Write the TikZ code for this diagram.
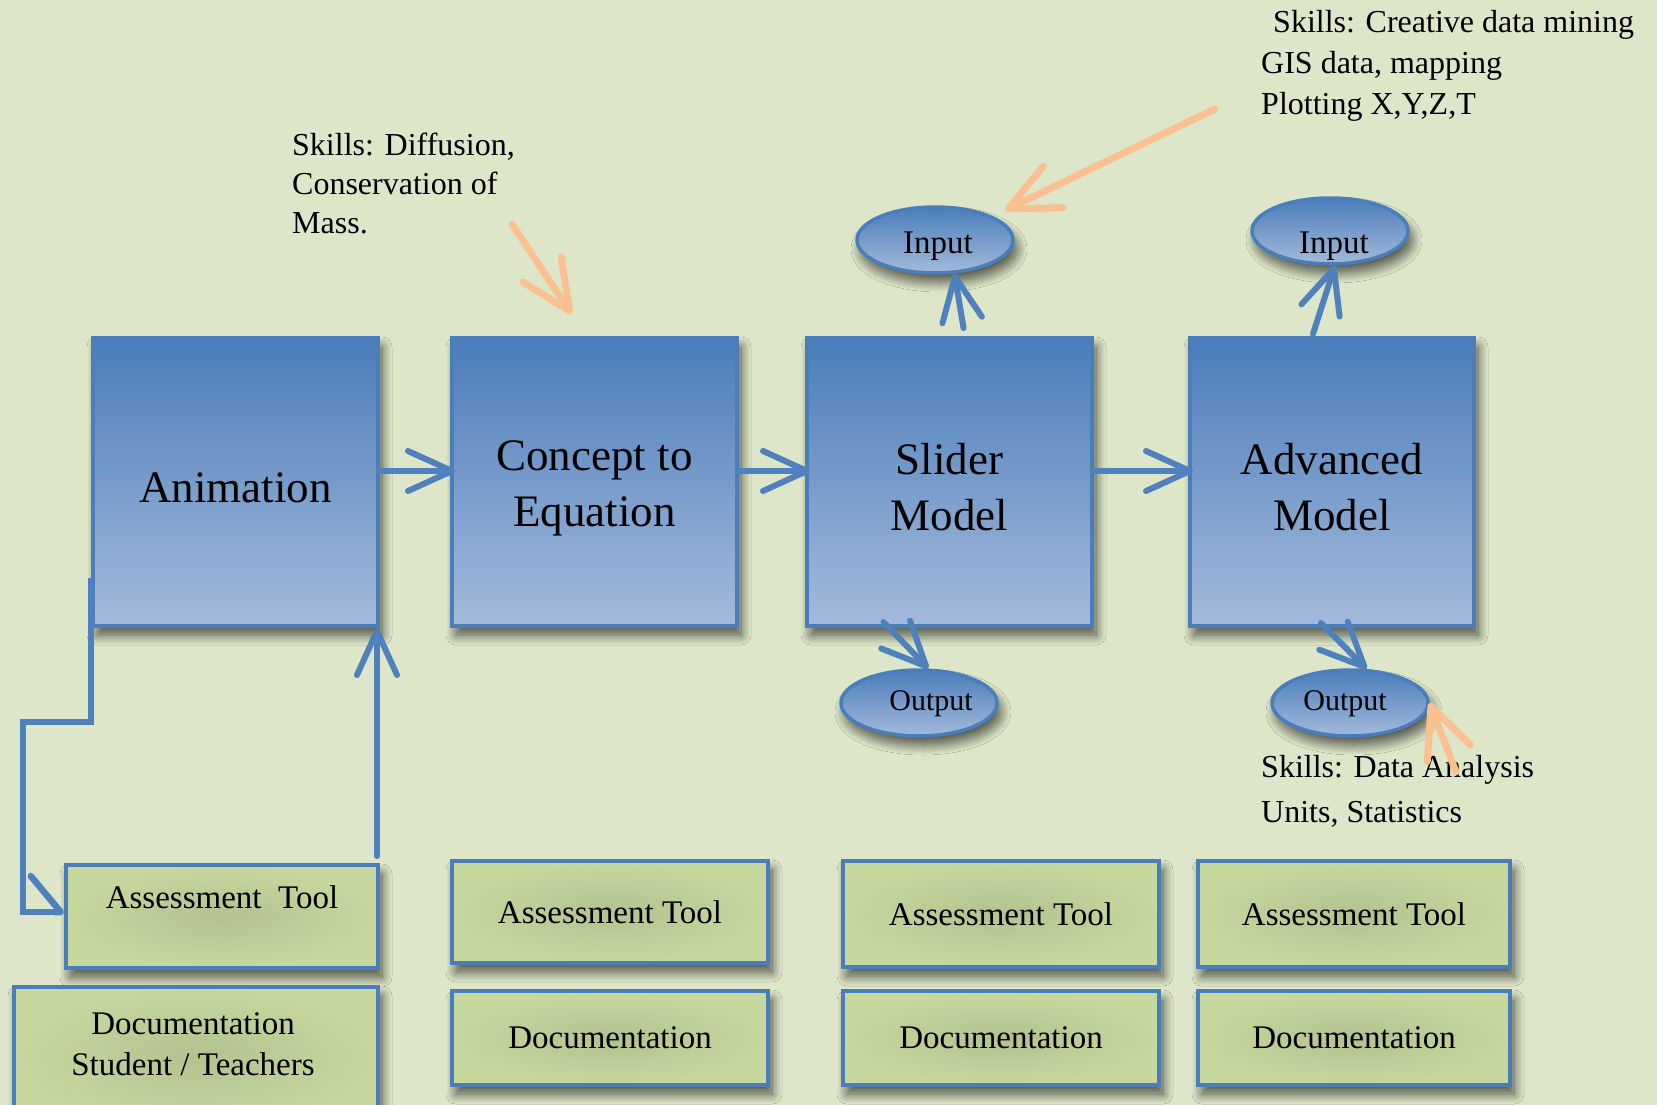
\documentclass[tikz,border=0pt]{standalone}
\usepackage{fontspec}
\setmainfont{Liberation Serif}
\usetikzlibrary{arrows.meta,shapes.geometric,shadows.blur}
\definecolor{bgc}{HTML}{DDE6C8}
\definecolor{btop}{HTML}{4A7DBA}
\definecolor{bbot}{HTML}{A4BADB}
\definecolor{bord}{HTML}{4A7EBB}
\definecolor{arrblue}{HTML}{4F81BD}
\definecolor{gin}{HTML}{B3C28F}
\definecolor{gout}{HTML}{C6D89E}
\definecolor{orng}{HTML}{FAC090}
\definecolor{shadowc}{HTML}{5E6646}
\begin{document}
\begin{tikzpicture}[x=1pt,y=-1pt,
  softshadow/.style={blur shadow={shadow xshift=4pt,shadow yshift=-9pt,shadow blur radius=10pt,
    shadow opacity=65,shadow blur steps=12,fill=shadowc}},
  stage/.style={rectangle,draw=bord,line width=4pt,top color=btop,bottom color=bbot,
    minimum height=288pt,align=center,font=\fontsize{45}{56}\selectfont,inner sep=0pt,softshadow},
  port/.style={ellipse,draw=bord,line width=3.5pt,top color=btop,bottom color=bbot,
    minimum width=156pt,minimum height=66pt,inner sep=0pt,softshadow},
  porttext/.style={font=\fontsize{33}{40}\selectfont,inner sep=0pt},
  outtext/.style={font=\fontsize{30}{36}\selectfont,inner sep=0pt},
  tool/.style={rectangle,draw=bord,line width=4pt,inner color=gin,outer color=gout,
    font=\fontsize{33}{41}\selectfont,align=center,inner sep=0pt,softshadow},
  tooltext/.style={font=\fontsize{33}{41}\selectfont,align=center,inner sep=0pt},
  skill/.style={align=left,inner sep=0pt,anchor=north west},
  barrow/.style={draw=arrblue,line width=6pt,line cap=round,
    -{Straight Barb[length=44pt,width=40pt,round]}},
  hookarrow/.style={draw=arrblue,line width=6.5pt,line cap=round,
    -{Straight Barb[harpoon,length=30pt,width=72pt,round]}},
  oarrow/.style={draw=orng,line width=7pt,line cap=round,
    -{Straight Barb[length=50pt,width=46pt,round]}}]

% canvas
\fill[bgc] (0,0) rectangle (1657,1105);
\useasboundingbox (0,0) rectangle (1657,1105);
\clip (0,0) rectangle (1657,1105);

% main stages (a tall strut lowers the text slightly below the box centre)
\node[stage,minimum width=285pt] (anim) at (235.5,482) {\rule{0pt}{41pt}Animation};
\node[stage,minimum width=285pt] (conc) at (594.5,482) {\rule{0pt}{42pt}Concept to\\Equation};
\node[stage,minimum width=285pt] (slid) at (949.5,482) {\rule{0pt}{42pt}Slider\\Model};
\node[stage,minimum width=284pt] (adv)  at (1332,482)  {\rule{0pt}{42pt}Advanced\\Model};

% inputs and outputs
\node[port] (in1)  at (935,240) {};
\node[port] (in2)  at (1330,231) {};
\node[port] (out1) at (919,703) {};
\node[port] (out2) at (1350,703) {};
\node[porttext] (in1t)  at (938,246)  {Input};
\node[porttext] (in2t)  at (1334,246) {Input};
\node[outtext]  (out1t) at (931,704)  {Output};
\node[outtext]  (out2t) at (1345,704) {Output};

% assessment and documentation boxes
\node[tool,minimum width=312pt,minimum height=103pt] (at1) at (222,916.5) {};
\node[tooltext] (at1t) at (222,897) {Assessment\ \ Tool};
\node[tool,minimum width=316pt,minimum height=102pt] (at2) at (610,912) {Assessment Tool};
\node[tool,minimum width=316pt,minimum height=106pt] (at3) at (1001,914) {Assessment Tool};
\node[tool,minimum width=312pt,minimum height=106pt] (at4) at (1354,914) {Assessment Tool};
\node[tool,minimum width=364pt,minimum height=140pt] (doc1) at (196,1057) {};
\node[tooltext] (doc1t) at (193,1044) {Documentation\\Student / Teachers};
\node[tool,minimum width=316pt,minimum height=94pt] (doc2) at (610,1038) {Documentation};
\node[tool,minimum width=316pt,minimum height=94pt] (doc3) at (1001,1038) {Documentation};
\node[tool,minimum width=312pt,minimum height=94pt] (doc4) at (1354,1038) {Documentation};

% skill notes
\node[skill,font=\fontsize{32}{39}\selectfont] (sk1) at (292,133)
  {Skills: Diffusion,\\Conservation of\\Mass.};
\node[skill,font=\fontsize{32}{41}\selectfont] (sk2) at (1261,10)
  {\hspace*{12pt}Skills: Creative data mining\\GIS data, mapping\\Plotting X,Y,Z,T};
\node[skill,font=\fontsize{32}{45}\selectfont] (sk3) at (1261,755)
  {Skills: Data Analysis\\Units, Statistics};

% flow between stages
\draw[barrow,shorten >=-5pt] (anim.east |- 0,471) -- (conc.west |- 0,471);
\draw[barrow,shorten >=-5pt] (conc.east |- 0,471) -- (slid.west |- 0,471);
\draw[barrow,shorten >=-5pt] (slid.east |- 0,471) -- (adv.west |- 0,471);

% stage to inputs / outputs
\draw[barrow] ([xshift=14pt,yshift=8pt]slid.north) -- (in1.-60);
\draw[barrow] ([xshift=-19pt,yshift=2pt]adv.north) -- (in2.-82);
\draw[barrow] ([xshift=-66pt,yshift=6pt]slid.south) -- (out1.75);
\draw[barrow] ([xshift=-11pt,yshift=5pt]adv.south) -- (out2.64);

% assessment feedback loop
\draw[barrow] ([xshift=-3pt,yshift=7pt]at1.north east) -- ([xshift=-3pt]anim.south east);
\draw[hookarrow,line join=miter,line cap=butt]
  ([yshift=-96pt]anim.west) -- ++(0,144) -- ++(-68,0) -- ++(0,190) -- ([yshift=4.5pt]at1.west);

% skill pointers
\coordinate (o1s) at (512,224);
\coordinate (o2s) at (1215,109);
\coordinate (o3s) at (1456,772);
\draw[oarrow] (o1s) -- ([xshift=-23pt,yshift=22pt]conc.north);
\draw[oarrow] (o2s) -- ([xshift=22pt,yshift=2pt]in1.30);
\draw[oarrow] (o3s) -- (out2.east);
\end{tikzpicture}
\end{document}
